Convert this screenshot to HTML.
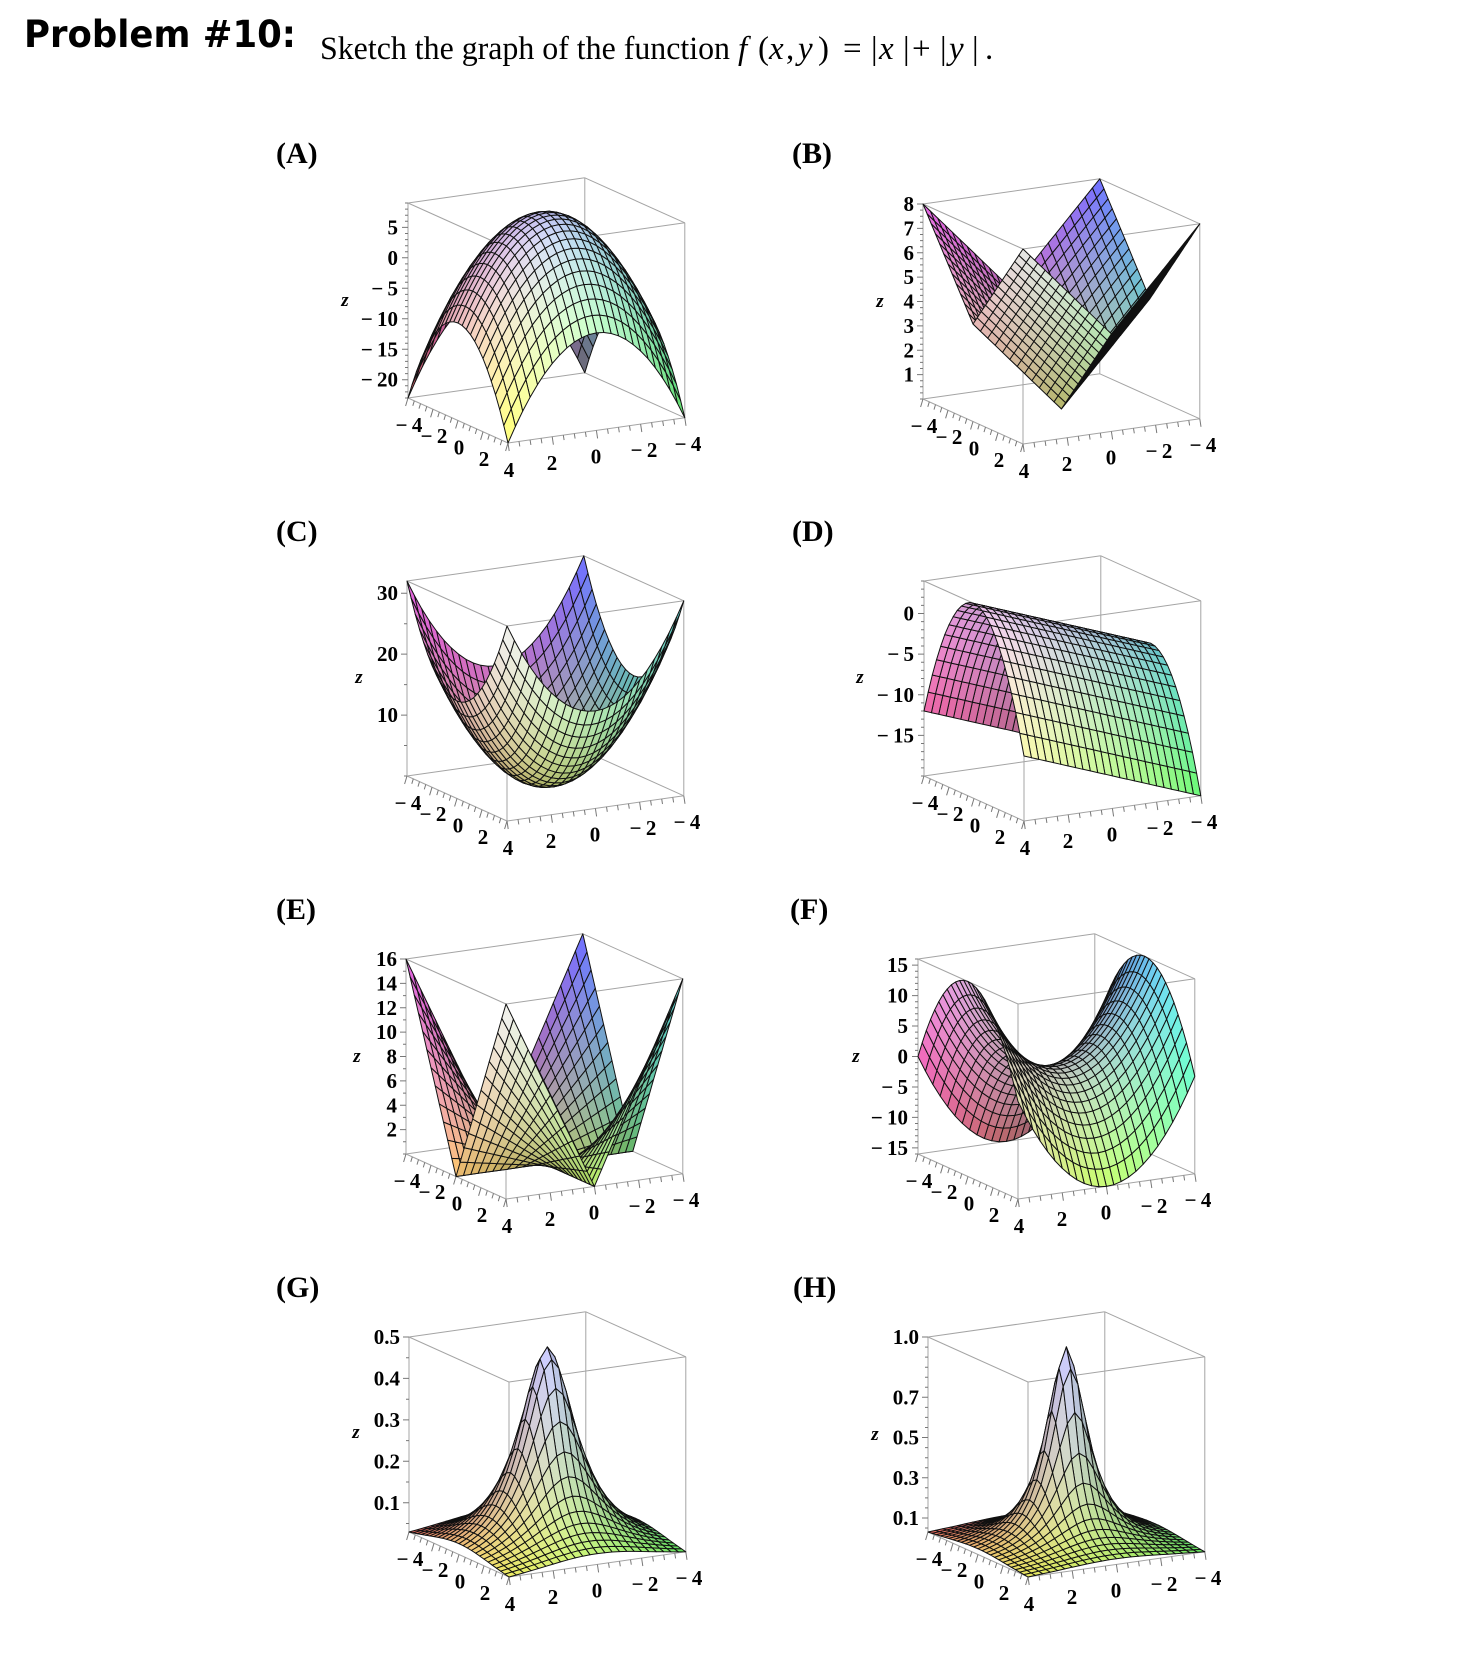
<!DOCTYPE html>
<html><head><meta charset="utf-8">
<style>
html,body{margin:0;padding:0;background:#fff;}
svg{display:block;}
.t{font-family:"Liberation Serif",serif;font-weight:bold;font-size:21px;fill:#000;}
.e{text-anchor:end;}
.m{text-anchor:middle;}
.zl{font-family:"Liberation Serif",serif;font-style:italic;font-weight:bold;font-size:19px;text-anchor:middle;fill:#000;}
.lab{font-family:"Liberation Serif",serif;font-weight:bold;font-size:30px;fill:#000;}
.hd{font-family:"DejaVu Sans","Liberation Sans",sans-serif;font-weight:bold;font-size:37px;fill:#000;}
.sf{font-family:"Liberation Serif",serif;font-size:33px;fill:#000;}
.it{font-style:italic;}
</style></head><body>
<svg id="s" width="1480" height="1660" viewBox="0 0 1480 1660" xmlns="http://www.w3.org/2000/svg">
<rect width="1480" height="1660" fill="#fff"/>
<g id="geo"></g>

<!-- header -->
<text class="hd" x="24" y="47" textLength="272" lengthAdjust="spacingAndGlyphs">Problem #10:</text>
<text class="sf" x="320" y="59" textLength="410" lengthAdjust="spacingAndGlyphs">Sketch the graph of the function</text>
<text class="sf it" x="738" y="59">f</text>
<text class="sf" x="758" y="59">(</text>
<text class="sf it" x="769" y="59">x</text>
<text class="sf" x="786" y="59">,</text>
<text class="sf it" x="798" y="59">y</text>
<text class="sf" x="818" y="59">)</text>
<text class="sf" x="843" y="59">=</text>
<text class="sf" x="871" y="59">|</text>
<text class="sf it" x="879" y="59">x</text>
<text class="sf" x="903" y="59">|</text>
<text class="sf" x="912" y="59">+</text>
<text class="sf" x="940" y="59">|</text>
<text class="sf it" x="949" y="59">y</text>
<text class="sf" x="972" y="59">|</text>
<text class="sf" x="985" y="59">.</text>

<!-- panel labels -->
<text class="lab" x="276" y="163">(A)</text>
<text class="lab" x="792" y="163">(B)</text>
<text class="lab" x="276" y="541">(C)</text>
<text class="lab" x="792" y="541">(D)</text>
<text class="lab" x="276" y="919">(E)</text>
<text class="lab" x="790" y="919">(F)</text>
<text class="lab" x="276" y="1297">(G)</text>
<text class="lab" x="793" y="1297">(H)</text>

<!-- Panel A -->
<g transform="translate(408,398)">
<text class="t m" x="1" y="34">−&#8201;4</text><text class="t m" x="26" y="45">−&#8201;2</text><text class="t m" x="51" y="56.5">0</text><text class="t m" x="76" y="68">2</text><text class="t m" x="101" y="79">4</text>
<text class="t m" x="144" y="72">2</text><text class="t m" x="188" y="65.5">0</text><text class="t m" x="236" y="59">−&#8201;2</text><text class="t m" x="280" y="53">−&#8201;4</text>
<text class="t e" x="-10" y="-11.3">−&#8201;20</text><text class="t e" x="-10" y="-41.7">−&#8201;15</text><text class="t e" x="-10" y="-72.2">−&#8201;10</text><text class="t e" x="-10" y="-102.7">−&#8201;5</text><text class="t e" x="-10" y="-133.2">0</text><text class="t e" x="-10" y="-163.6">5</text>
<text class="zl" x="-63" y="-92">z</text>
</g>

<!-- Panel B -->
<g transform="translate(923,399)">
<text class="t m" x="1" y="34">−&#8201;4</text><text class="t m" x="26" y="45">−&#8201;2</text><text class="t m" x="51" y="56.5">0</text><text class="t m" x="76" y="68">2</text><text class="t m" x="101" y="79">4</text>
<text class="t m" x="144" y="72">2</text><text class="t m" x="188" y="65.5">0</text><text class="t m" x="236" y="59">−&#8201;2</text><text class="t m" x="280" y="53">−&#8201;4</text>
<text class="t e" x="-9" y="-17.4">1</text><text class="t e" x="-9" y="-41.7">2</text><text class="t e" x="-9" y="-66.1">3</text><text class="t e" x="-9" y="-90.5">4</text><text class="t e" x="-9" y="-114.9">5</text><text class="t e" x="-9" y="-139.2">6</text><text class="t e" x="-9" y="-163.6">7</text><text class="t e" x="-9" y="-188">8</text>
<text class="zl" x="-43" y="-92">z</text>
</g>

<!-- Panel C -->
<g transform="translate(407,776)">
<text class="t m" x="1" y="34">−&#8201;4</text><text class="t m" x="26" y="45">−&#8201;2</text><text class="t m" x="51" y="56.5">0</text><text class="t m" x="76" y="68">2</text><text class="t m" x="101" y="79">4</text>
<text class="t m" x="144" y="72">2</text><text class="t m" x="188" y="65.5">0</text><text class="t m" x="236" y="59">−&#8201;2</text><text class="t m" x="280" y="53">−&#8201;4</text>
<text class="t e" x="-9" y="-53.9">10</text><text class="t e" x="-9" y="-114.9">20</text><text class="t e" x="-9" y="-175.8">30</text>
<text class="zl" x="-48" y="-93">z</text>
</g>

<!-- Panel D -->
<g transform="translate(924,776)">
<text class="t m" x="1" y="34">−&#8201;4</text><text class="t m" x="26" y="45">−&#8201;2</text><text class="t m" x="51" y="56.5">0</text><text class="t m" x="76" y="68">2</text><text class="t m" x="101" y="79">4</text>
<text class="t m" x="144" y="72">2</text><text class="t m" x="188" y="65.5">0</text><text class="t m" x="236" y="59">−&#8201;2</text><text class="t m" x="280" y="53">−&#8201;4</text>
<text class="t e" x="-10" y="-33.6">−&#8201;15</text><text class="t e" x="-10" y="-74.2">−&#8201;10</text><text class="t e" x="-10" y="-114.9">−&#8201;5</text><text class="t e" x="-10" y="-155.5">0</text>
<text class="zl" x="-64" y="-93">z</text>
</g>

<!-- Panel E -->
<g transform="translate(406,1154)">
<text class="t m" x="1" y="34">−&#8201;4</text><text class="t m" x="26" y="45">−&#8201;2</text><text class="t m" x="51" y="56.5">0</text><text class="t m" x="76" y="68">2</text><text class="t m" x="101" y="79">4</text>
<text class="t m" x="144" y="72">2</text><text class="t m" x="188" y="65.5">0</text><text class="t m" x="236" y="59">−&#8201;2</text><text class="t m" x="280" y="53">−&#8201;4</text>
<text class="t e" x="-9" y="-17.4">2</text><text class="t e" x="-9" y="-41.7">4</text><text class="t e" x="-9" y="-66.1">6</text><text class="t e" x="-9" y="-90.5">8</text><text class="t e" x="-9" y="-114.9">10</text><text class="t e" x="-9" y="-139.2">12</text><text class="t e" x="-9" y="-163.6">14</text><text class="t e" x="-9" y="-188">16</text>
<text class="zl" x="-49" y="-92">z</text>
</g>

<!-- Panel F -->
<g transform="translate(918,1154)">
<text class="t m" x="1" y="34">−&#8201;4</text><text class="t m" x="26" y="45">−&#8201;2</text><text class="t m" x="51" y="56.5">0</text><text class="t m" x="76" y="68">2</text><text class="t m" x="101" y="79">4</text>
<text class="t m" x="144" y="72">2</text><text class="t m" x="188" y="65.5">0</text><text class="t m" x="236" y="59">−&#8201;2</text><text class="t m" x="280" y="53">−&#8201;4</text>
<text class="t e" x="-10" y="0.9">−&#8201;15</text><text class="t e" x="-10" y="-29.6">−&#8201;10</text><text class="t e" x="-10" y="-60">−&#8201;5</text><text class="t e" x="-10" y="-90.5">0</text><text class="t e" x="-10" y="-121">5</text><text class="t e" x="-10" y="-151.4">10</text><text class="t e" x="-10" y="-181.9">15</text>
<text class="zl" x="-62" y="-92">z</text>
</g>

<!-- Panel G -->
<g transform="translate(409,1532)">
<text class="t m" x="1" y="34">−&#8201;4</text><text class="t m" x="26" y="45">−&#8201;2</text><text class="t m" x="51" y="56.5">0</text><text class="t m" x="76" y="68">2</text><text class="t m" x="101" y="79">4</text>
<text class="t m" x="144" y="72">2</text><text class="t m" x="188" y="65.5">0</text><text class="t m" x="236" y="59">−&#8201;2</text><text class="t m" x="280" y="53">−&#8201;4</text>
<text class="t e" x="-9" y="-22.2">0.1</text><text class="t e" x="-9" y="-63.7">0.2</text><text class="t e" x="-9" y="-105.1">0.3</text><text class="t e" x="-9" y="-146.6">0.4</text><text class="t e" x="-9" y="-188">0.5</text>
<text class="zl" x="-53" y="-94">z</text>
</g>

<!-- Panel H -->
<g transform="translate(928,1532)">
<text class="t m" x="1" y="34">−&#8201;4</text><text class="t m" x="26" y="45">−&#8201;2</text><text class="t m" x="51" y="56.5">0</text><text class="t m" x="76" y="68">2</text><text class="t m" x="101" y="79">4</text>
<text class="t m" x="144" y="72">2</text><text class="t m" x="188" y="65.5">0</text><text class="t m" x="236" y="59">−&#8201;2</text><text class="t m" x="280" y="53">−&#8201;4</text>
<text class="t e" x="-9" y="-7">0.1</text><text class="t e" x="-9" y="-47.2">0.3</text><text class="t e" x="-9" y="-87.5">0.5</text><text class="t e" x="-9" y="-127.7">0.7</text><text class="t e" x="-9" y="-188">1.0</text>
<text class="zl" x="-53" y="-92">z</text>
</g>
</svg>
<script>
(function(){
var EX=[12.5,5.625], EY=[-22.1,3.15], H=195, N=24;
var P=[
 {L:[408,398],f:function(x,y){return 9-x*x-y*y;},z0:-23,z1:9,maj:[-20,-15,-10,-5,0,5],mn:1},
 {L:[923,399],f:function(x,y){return Math.abs(x)+Math.abs(y);},z0:0,z1:8,maj:[1,2,3,4,5,6,7,8],mn:0.25},
 {L:[407,776],f:function(x,y){return x*x+y*y;},z0:0,z1:32,maj:[10,20,30],mn:5},
 {L:[924,776],f:function(x,y){return y-x*x;},z0:-20,z1:4,maj:[-15,-10,-5,0],mn:1},
 {L:[406,1154],f:function(x,y){return Math.abs(x*y);},z0:0,z1:16,maj:[2,4,6,8,10,12,14,16],mn:1},
 {L:[918,1154],f:function(x,y){return y*y-x*x;},z0:-16,z1:16,maj:[-15,-10,-5,0,5,10,15],mn:1},
 {L:[409,1532],f:function(x,y){return 1/(2+x*x+y*y);},z0:1/34,z1:0.5,maj:[0.1,0.2,0.3,0.4,0.5],mn:0.05},
 {L:[928,1532],f:function(x,y){return 1/(1+x*x+y*y);},z0:1/33,z1:1,maj:[0.1,0.3,0.5,0.7,1.0],mn:0.05}
];
var LL=[0.85,0.48,0.45];
var ln=Math.sqrt(LL[0]*LL[0]+LL[1]*LL[1]+LL[2]*LL[2]);
LL=[LL[0]/ln,LL[1]/ln,LL[2]/ln];
function pr(p,x,y,z){
 var t=(z-p.z0)/(p.z1-p.z0);
 return [p.L[0]+(x+4)*EX[0]+(y-4)*EY[0], p.L[1]+(x+4)*EX[1]+(y-4)*EY[1]-t*H];
}
function f2(v){return v.toFixed(1);}
var out='';
P.forEach(function(p){
 var s='';
 var cs=[[-4,4],[4,4],[4,-4],[-4,-4]];
 for(var i=0;i<4;i++){
  var a=cs[i], b=cs[(i+1)%4];
  [p.z0,p.z1].forEach(function(z){
   var A=pr(p,a[0],a[1],z), B=pr(p,b[0],b[1],z);
   s+='M'+f2(A[0])+' '+f2(A[1])+'L'+f2(B[0])+' '+f2(B[1]);
  });
  var A=pr(p,a[0],a[1],p.z0), B=pr(p,a[0],a[1],p.z1);
  s+='M'+f2(A[0])+' '+f2(A[1])+'L'+f2(B[0])+' '+f2(B[1]);
 }
 out+='<path d="'+s+'" fill="none" stroke="#a4a4a4" stroke-width="1"/>';
 var t='';
 var lx=p.L[0], st=p.mn;
 var k0=Math.ceil(p.z0/st-1e-6), k1=Math.floor(p.z1/st+1e-6);
 for(var k=k0;k<=k1;k++){
  var v=k*st;
  var y=pr(p,-4,4,v)[1];
  var major=p.maj.some(function(m){return Math.abs(m-v)<st/10;});
  t+='M'+f2(lx)+' '+f2(y)+'L'+f2(lx-(major?6:3))+' '+f2(y);
 }
 for(var k=0;k<=16;k++){
  var x=-4+k*0.5; var A=pr(p,x,4,p.z0);
  var len=(k%4==0)?8:5;
  t+='M'+f2(A[0])+' '+f2(A[1])+'l'+f2(-0.3*len)+' '+f2(len);
 }
 for(var k=0;k<=16;k++){
  var yy=4-k*0.5; var A=pr(p,4,yy,p.z0);
  var len=(k%4==0)?8:5;
  t+='M'+f2(A[0])+' '+f2(A[1])+'l'+f2(0.15*len)+' '+f2(len);
 }
 out+='<path d="'+t+'" fill="none" stroke="#777" stroke-width="1"/>';
 var g=[];
 for(var i=0;i<=N;i++){g[i]=[];for(var j=0;j<=N;j++){var x=-4+8*i/N,y=-4+8*j/N;g[i][j]=[x,y,p.f(x,y)];}}
 var ws=8/(p.z1-p.z0);
 var q=[];
 for(var i=0;i<N;i++)for(var j=0;j<N;j++){
  var a=g[i][j],b=g[i+1][j],c=g[i+1][j+1],d=g[i][j+1];
  var cx=(a[0]+c[0])/2, cy=(a[1]+c[1])/2, cz=(a[2]+b[2]+c[2]+d[2])/4;
  var w=(cz-p.z0)*ws-4;
  var depth=539*cx+305*cy+163*w;
  var u=[c[0]-a[0],c[1]-a[1],(c[2]-a[2])*ws], vv=[d[0]-b[0],d[1]-b[1],(d[2]-b[2])*ws];
  var n=[u[1]*vv[2]-u[2]*vv[1],u[2]*vv[0]-u[0]*vv[2],u[0]*vv[1]-u[1]*vv[0]];
  var nl=Math.sqrt(n[0]*n[0]+n[1]*n[1]+n[2]*n[2])||1;
  var dot=Math.abs((n[0]*LL[0]+n[1]*LL[1]+n[2]*LL[2])/nl);
  var sh=0.8+0.22*dot;
  var base=[(cy+4)/8,(cx+4)/8,Math.max(0,Math.min(1,(cz-p.z0)/(p.z1-p.z0)))];
  var col=base.map(function(tv){return Math.max(0,Math.min(255,Math.round(255*((0.4+0.6*Math.pow(tv,0.65))*sh))));});
  var pts=[a,b,c,d].map(function(tv){return pr(p,tv[0],tv[1],tv[2]);});
  q.push([depth,pts,col]);
 }
 q.sort(function(m,n){return m[0]-n[0];});
 var sp='<g stroke="#111" stroke-width="1" stroke-linejoin="round">';
 q.forEach(function(e){
  var pts=e[1];
  sp+='<path d="M'+pts.map(function(tv){return f2(tv[0])+' '+f2(tv[1]);}).join('L')+'Z" fill="rgb('+e[2].join(',')+')"/>';
 });
 sp+='</g>';
 out+=sp;
});
document.getElementById('geo').innerHTML=out;
})();
</script>
</body></html>
